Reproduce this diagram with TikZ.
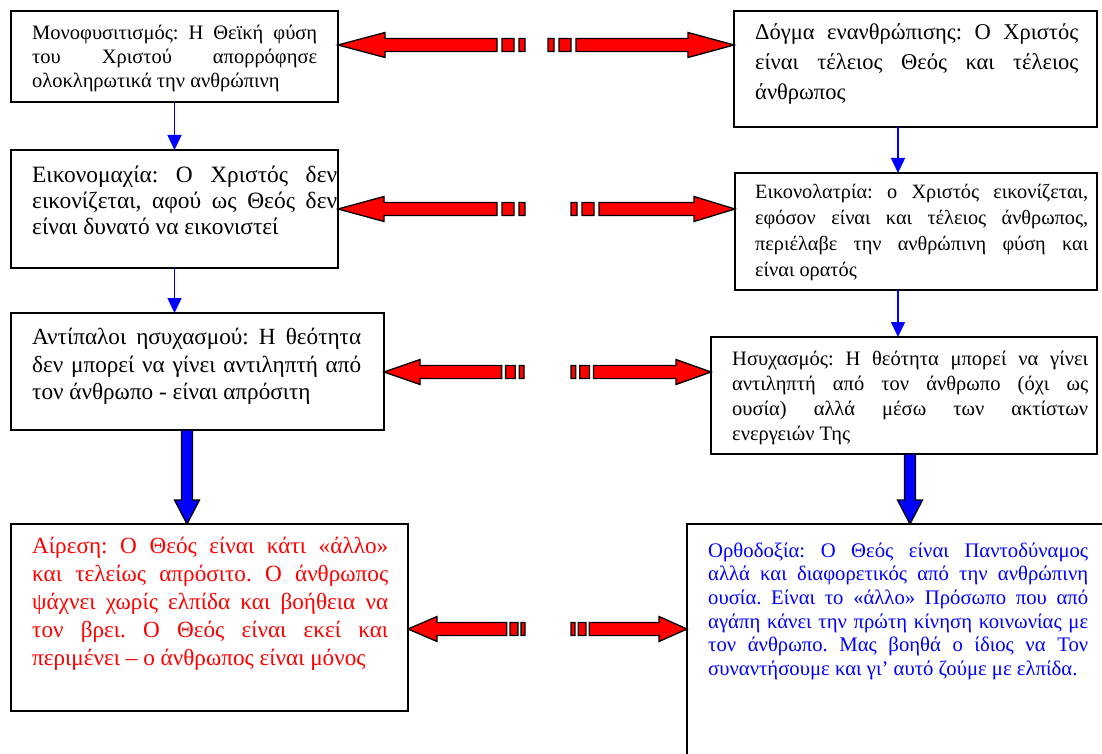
\documentclass[tikz,border=0pt]{standalone}
\usepackage{fontspec}
\setmainfont{Liberation Serif}
\usetikzlibrary{arrows.meta,calc}
\tolerance=10000
\hyphenpenalty=10000
\exhyphenpenalty=10000
\frenchspacing

\newcommand{\stripearrow}[5]{%
\filldraw[redarrow] let \p1=(#1), \p2=(#2) in
 (\x1,{\y1-6.5}) rectangle ({\x1+(#3)*6*#5},{\y1+6.5})
 ({\x1+(#3)*11*#5},{\y1-6.5}) rectangle ({\x1+(#3)*23*#5},{\y1+6.5})
 ({\x1+(#3)*28*#5},{\y1-6.5}) -- ({\x2-(#3)*#4},{\y1-6.5}) -- ({\x2-(#3)*#4},{\y1-12.5}) -- (\x2,\y1)
 -- ({\x2-(#3)*#4},{\y1+12.5}) -- ({\x2-(#3)*#4},{\y1+6.5}) -- ({\x1+(#3)*28*#5},{\y1+6.5}) -- cycle;}
\newcommand{\blockarrow}[2]{%
\filldraw[bluearrow] let \p1=(#1), \p2=(#2) in
 ({\x1-5.5},\y1) -- ({\x1-5.5},{\y2+24}) -- ({\x1-12.5},{\y2+24}) -- (\x2,\y2)
 -- ({\x1+12.5},{\y2+24}) -- ({\x1+5.5},{\y2+24}) -- ({\x1+5.5},\y1) -- cycle;}

\begin{document}
\begin{tikzpicture}[x=1pt,y=-1pt,
  box/.style={draw,line width=1.6pt,rectangle,anchor=north west,outer sep=0pt,inner sep=0pt},
  boxtext/.style={anchor=north west,inner sep=0pt,align=justify},
  redarrow/.style={fill=red,draw=black,line width=1.3pt,line join=miter},
  bluearrow/.style={fill=blue,draw=black,line width=1.3pt,line join=miter},
  thinarrow/.style={draw=blue,line width=1.5pt,-{Triangle[length=15pt,width=14pt]}}]

\useasboundingbox (0,0) rectangle (1102,754);
\fill[white] (0,0) rectangle (1102,754);
\clip (0,0) rectangle (1102,754);

\node[box,minimum width=327,minimum height=91] (mono) at (11,11) {};
\node[box,minimum width=363,minimum height=116] (ened) at (734,11) {};
\node[box,minimum width=327,minimum height=118] (eikm) at (11,150) {};
\node[box,minimum width=362,minimum height=117] (eikl) at (735,173) {};
\node[box,minimum width=373,minimum height=117] (antip) at (11,313) {};
\node[box,minimum width=386,minimum height=117] (hesy) at (711,337) {};
\node[box,minimum width=397,minimum height=187] (aires) at (11,524) {};
\node[box,minimum width=430,minimum height=260] (ortho) at (687,524) {};

\node[boxtext,text width=285,font=\fontsize{20.5}{24}\selectfont] (monot) at ([xshift=21pt,yshift=-13.5pt]mono.north west)
 {Μονοφυσιτισμός: Η Θεϊκή φύση\linebreak του Χριστού απορρόφησε\linebreak ολοκληρωτικά την ανθρώπινη};
\node[boxtext,text width=323,font=\fontsize{22.5}{30}\selectfont] (enedt) at ([xshift=21pt,yshift=-12pt]ened.north west)
 {Δόγμα ενανθρώπισης: Ο Χριστός\linebreak είναι τέλειος Θεός και τέλειος\linebreak άνθρωπος};
\node[boxtext,text width=305,font=\fontsize{23.4}{26}\selectfont] (eikmt) at ([xshift=21pt,yshift=-16.3pt]eikm.north west)
 {Εικονομαχία: Ο Χριστός δεν\linebreak εικονίζεται, αφού ως Θεός δεν\linebreak είναι δυνατό να εικονιστεί};
\node[boxtext,text width=333,font=\fontsize{20.3}{26}\selectfont] (eiklt) at ([xshift=20pt,yshift=-10.6pt]eikl.north west)
 {Εικονολατρία: ο Χριστός εικονίζεται,\linebreak εφόσον είναι και τέλειος άνθρωπος,\linebreak περιέλαβε την ανθρώπινη φύση και\linebreak είναι ορατός};
\node[boxtext,text width=329,font=\fontsize{23.2}{27.5}\selectfont] (antipt) at ([xshift=21pt,yshift=-15.4pt]antip.north west)
 {Αντίπαλοι ησυχασμού: Η θεότητα\linebreak δεν μπορεί να γίνει αντιληπτή από\linebreak τον άνθρωπο - είναι απρόσιτη};
\node[boxtext,text width=356,font=\fontsize{20.5}{25}\selectfont] (hesyt) at ([xshift=21pt,yshift=-13.8pt]hesy.north west)
 {Ησυχασμός: Η θεότητα μπορεί να γίνει\linebreak αντιληπτή από τον άνθρωπο (όχι ως\linebreak ουσία) αλλά μέσω των ακτίστων\linebreak ενεργειών Της};
\node[boxtext,text width=356,text=red,font=\fontsize{23.2}{28}\selectfont] (airest) at ([xshift=21pt,yshift=-13.4pt]aires.north west)
 {Αίρεση: Ο Θεός είναι κάτι «άλλο»\linebreak και τελείως απρόσιτο. Ο άνθρωπος\linebreak ψάχνει χωρίς ελπίδα και βοήθεια να\linebreak τον βρει. Ο Θεός είναι εκεί και\linebreak περιμένει – ο άνθρωπος είναι μόνος};
\node[boxtext,text width=380,text=blue,font=\fontsize{20.7}{23.6}\selectfont] (orthot) at ([xshift=21pt,yshift=-18.4pt]ortho.north west)
 {Ορθοδοξία: Ο Θεός είναι Παντοδύναμος\linebreak αλλά και διαφορετικός από την ανθρώπινη\linebreak ουσία. Είναι το «άλλο» Πρόσωπο που από\linebreak αγάπη κάνει την πρώτη κίνηση κοινωνίας με\linebreak τον άνθρωπο. Μας βοηθά ο ίδιος να Τον\linebreak συναντήσουμε και γι’ αυτό ζούμε με ελπίδα.};

\coordinate (r1l) at (525,45);
\coordinate (r1r) at (548,45);
\coordinate (r2l) at (525,209);
\coordinate (r2r) at (571,209);
\coordinate (r3l) at (524,372);
\coordinate (r3r) at (571,372);
\coordinate (r4l) at (525,629);
\coordinate (r4r) at (571,629);

\stripearrow{r1l}{r1l -| mono.east}{-1}{47}{1}
\stripearrow{r1r}{r1r -| ened.west}{1}{46}{1}
\stripearrow{r2l}{r2l -| eikm.east}{-1}{46}{1}
\stripearrow{r2r}{r2r -| eikl.west}{1}{41}{1}
\stripearrow{r3l}{r3l -| antip.east}{-1}{36}{0.8}
\stripearrow{r3r}{r3r -| hesy.west}{1}{35}{0.8}
\stripearrow{r4l}{r4l -| aires.east}{-1}{29}{0.65}
\stripearrow{r4r}{r4r -| ortho.west}{1}{28}{0.65}

\draw[thinarrow] (mono.south) -- (eikm.north);
\draw[thinarrow] ([xshift=-17.5pt]ened.south) -- ([xshift=-17.5pt]ened.south |- eikl.north);
\draw[thinarrow] (eikm.south) -- (eikm.south |- antip.north);
\draw[thinarrow] ([xshift=-18pt]eikl.south) -- ([xshift=-18pt]eikl.south |- hesy.north);

\blockarrow{[xshift=-10.5pt]antip.south}{[xshift=-10.5pt]antip.south |- aires.north}
\blockarrow{[xshift=6pt]hesy.south}{[xshift=6pt]hesy.south |- ortho.north}

\end{tikzpicture}
\end{document}
